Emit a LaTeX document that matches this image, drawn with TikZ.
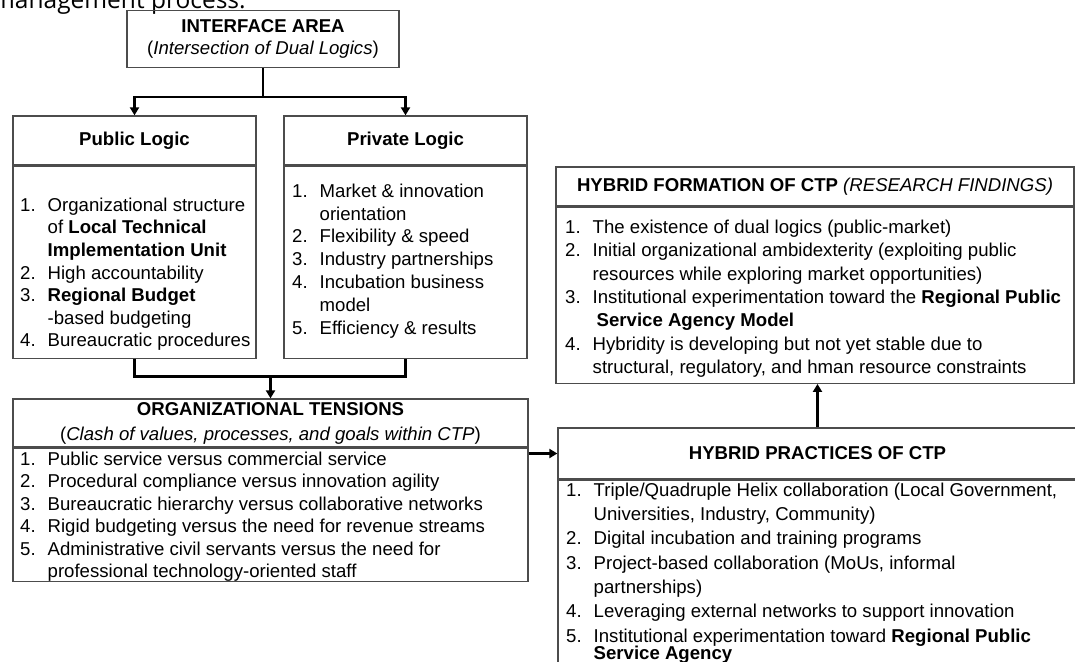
\documentclass[tikz,border=0pt]{standalone}
\usepackage{fontspec}
\setmainfont{Liberation Sans}
\newfontfamily\capfont{Open Sans}
\usetikzlibrary{positioning, arrows.meta}

\newcommand{\itemno}[1]{\makebox[27.5pt][l]{#1}}
\newcommand{\indnt}{\hspace*{27.5pt}}
\newcommand{\topstrut}{\rule{0pt}{14pt}}

\begin{document}
\begin{tikzpicture}[x=1pt, y=-1pt,
  font=\fontsize{18.6pt}{22.6pt}\selectfont,
  frame/.style={draw=black!70, line width=1.3pt, inner sep=0pt, align=center},
  listtxt/.style={anchor=north west, inner sep=0pt, align=left, font=\fontsize{18.6pt}{#1}\selectfont},
  bar/.style={line width=2.6pt},
  link/.style={line width=2.6pt, -{Triangle[width=9pt,length=8pt]}}]
  \useasboundingbox (0,0) rectangle (1075,661);

  % caption fragment cut by the page edge
  \node[anchor=base west, inner sep=0pt, font=\capfont\fontsize{24.5pt}{28pt}\selectfont] (capfrag) at (-8,9) {management process.};

  % interface area
  \node[frame, minimum width=272pt, minimum height=57pt] (iface) at (263,39)
    {\textbf{INTERFACE AREA}\\(\textit{Intersection of Dual Logics})};

  % public and private logic
  \node[frame, minimum width=243pt, minimum height=49pt] (pubH) at (134.5,140.5) {\textbf{Public Logic}};
  \node[frame, minimum width=243pt, minimum height=192pt, below=0pt of pubH] (pubB) {};
  \node[frame, minimum width=243pt, minimum height=49pt] (privH) at (405.5,140.5) {\textbf{Private Logic}};
  \node[frame, minimum width=243pt, minimum height=192pt, below=0pt of privH] (privB) {};

  \node[listtxt=22.6pt] (publist) at (20,197) {\topstrut\itemno{1.}Organizational structure\\
    \indnt of \textbf{Local Technical}\\
    \indnt\textbf{Implementation Unit}\\
    \itemno{2.}High accountability\\
    \itemno{3.}\textbf{Regional Budget}\\
    \indnt -based budgeting\\
    \itemno{4.}Bureaucratic procedures};
  \node[listtxt=22.8pt] (privlist) at (292,183) {\topstrut\itemno{1.}Market \& innovation\\
    \indnt orientation\\
    \itemno{2.}Flexibility \& speed\\
    \itemno{3.}Industry partnerships\\
    \itemno{4.}Incubation business\\
    \indnt model\\
    \itemno{5.}Efficiency \& results};

  % organizational tensions
  \node[frame, minimum width=515pt, minimum height=48pt, font=\fontsize{18.6pt}{25pt}\selectfont] (orgH) at (270.5,423)
    {\textbf{ORGANIZATIONAL TENSIONS}\\(\textit{Clash of values, processes, and goals within CTP})};
  \node[frame, minimum width=515pt, minimum height=133pt, below=0pt of orgH] (orgB) {};
  \node[listtxt=22.5pt] (orglist) at (20,451) {\topstrut\itemno{1.}Public service versus commercial service\\
    \itemno{2.}Procedural compliance versus innovation agility\\
    \itemno{3.}Bureaucratic hierarchy versus collaborative networks\\
    \itemno{4.}Rigid budgeting versus the need for revenue streams\\
    \itemno{5.}Administrative civil servants versus the need for\\
    \indnt professional technology-oriented staff};

  % hybrid formation
  \node[frame, minimum width=518pt, minimum height=39pt] (formH) at (815,186.5)
    {\textbf{HYBRID FORMATION OF CTP} \textit{(RESEARCH FINDINGS)}};
  \node[frame, minimum width=518pt, minimum height=176pt, below=0pt of formH] (formB) {};
  \node[listtxt=23.4pt] (formlist) at (565,219) {\topstrut\itemno{1.}The existence of dual logics (public-market)\\
    \itemno{2.}Initial organizational ambidexterity (exploiting public\\
    \indnt resources while exploring market opportunities)\\
    \itemno{3.}Institutional experimentation toward the \textbf{Regional Public}\\
    \indnt\hspace*{4pt}\textbf{Service Agency Model}\\
    \itemno{4.}Hybridity is developing but not yet stable due to\\
    \indnt structural, regulatory, and hman resource constraints};

  % hybrid practices
  \node[frame, minimum width=519pt, minimum height=51pt] (practH) at (817.5,453.5) {\textbf{HYBRID PRACTICES OF CTP}};
  \node[frame, minimum width=519pt, minimum height=221pt, below=0pt of practH] (practB) {};
  \node[listtxt=24.3pt] (practlist) at (566,482) {\topstrut\itemno{1.}Triple/Quadruple Helix collaboration (Local Government,\\
    \indnt Universities, Industry, Community)\\
    \itemno{2.}Digital incubation and training programs\\
    \itemno{3.}Project-based collaboration (MoUs, informal\\
    \indnt partnerships)\\
    \itemno{4.}Leveraging external networks to support innovation\\
    \itemno{5.}Institutional experimentation toward \textbf{Regional Public}\\[-6.5pt]
    \indnt\textbf{Service Agency}};

  % connectors
  \coordinate (split) at ([yshift=-29pt]iface.south);
  \draw[bar] (iface.south) -- (split);
  \draw[link] (split) -| (pubH.north);
  \draw[link] (split) -| (privH.north);
  \coordinate (merge) at ([yshift=22pt]orgH.north);
  \draw[bar] (pubB.south) |- (merge) -| (privB.south);
  \draw[link] (merge) -- (orgH.north);
  \draw[link] (orgB.north east |- practH.west) -- (practH.west);
  \draw[link] (practH.north) -- (practH.north |- formB.south);
\end{tikzpicture}
\end{document}
